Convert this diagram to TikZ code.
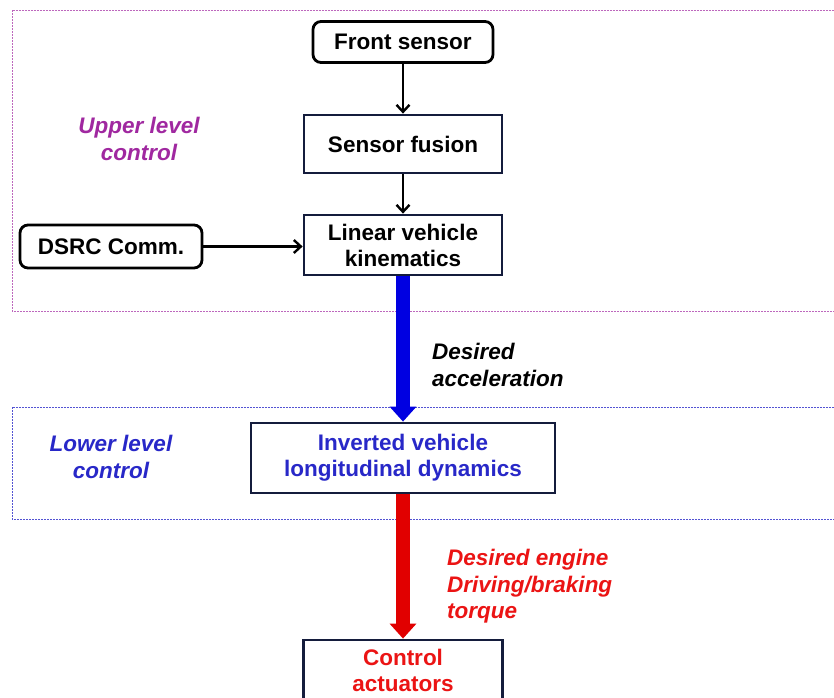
\documentclass[tikz,border=0pt]{standalone}
\usepackage{fontspec}
\setmainfont{Liberation Sans}
\usetikzlibrary{arrows.meta}
\definecolor{navy}{RGB}{20,28,60}
\definecolor{upc}{RGB}{160,40,160}
\definecolor{lowc}{RGB}{40,40,200}
\definecolor{redc}{RGB}{235,20,20}
\definecolor{bluea}{RGB}{0,0,225}
\definecolor{reda}{RGB}{225,0,0}
\tikzset{
  box/.style={draw=navy, line width=2.8pt, fill=white, align=center, inner sep=0pt,
     font=\fontsize{22.5}{26}\selectfont\bfseries},
  rbox/.style={box, draw=black, rounded corners=8pt},
  thin arrow/.style={line width=2.4pt, -{Straight Barb[length=7pt,width=13pt]}},
  fat arrow/.style={line width=14pt, -{Triangle[length=15pt,width=26pt]}},
  region/.style={line width=1pt, dash pattern=on 2pt off 1pt},
  lbl/.style={align=left, anchor=north west, inner sep=0pt,
     font=\fontsize{22.5}{26.5}\selectfont\bfseries\itshape},
  clbl/.style={lbl, align=center, anchor=center}
}
\begin{document}
\begin{tikzpicture}[x=1pt,y=-1pt]
\useasboundingbox (0,0) rectangle (834,697);
\clip (0,0) rectangle (834,697);
\fill[white] (0,0) rectangle (834,697);
% regions
\draw[region, draw=upc!70] (12,10) rectangle (860,311);
\draw[region, draw=lowc!80] (12,407) rectangle (860,519);
% nodes
\node[rbox, minimum width=180pt, minimum height=41pt] (fs) at (403,42) {Front sensor};
\node[box, minimum width=198pt, minimum height=58pt] (sf) at (403,144) {Sensor fusion};
\node[box, minimum width=198pt, minimum height=60pt] (lk) at (403,245) {Linear vehicle\\kinematics};
\node[rbox, minimum width=182pt, minimum height=43pt] (ds) at (111,246.5) {DSRC Comm.};
\node[box, minimum width=304pt, minimum height=70pt, text=lowc] (iv) at (403,458) {Inverted vehicle\\longitudinal dynamics};
\node[box, minimum width=199pt, minimum height=60pt, text=redc] (ca) at (403,670) {Control\\actuators};
% connectors
\draw[thin arrow] (fs) -- (sf);
\draw[thin arrow] (sf) -- (lk);
\draw[thin arrow] (ds.east) -- (ds.east -| lk.west);
\draw[fat arrow, draw=bluea, fill=bluea] (lk.south) -- (iv.north);
\draw[fat arrow, draw=reda, fill=reda] (iv.south) -- (ca.north);
% labels
\node[clbl, text=upc] (ul) at (139,139) {Upper level\\control};
\node[clbl, text=lowc] (ll) at (111,457) {Lower level\\control};
\node[lbl, text=black] (da) at (432,343) {Desired\\acceleration};
\node[lbl, text=redc] (de) at (447,549) {Desired engine\\Driving/braking\\torque};
\end{tikzpicture}
\end{document}
